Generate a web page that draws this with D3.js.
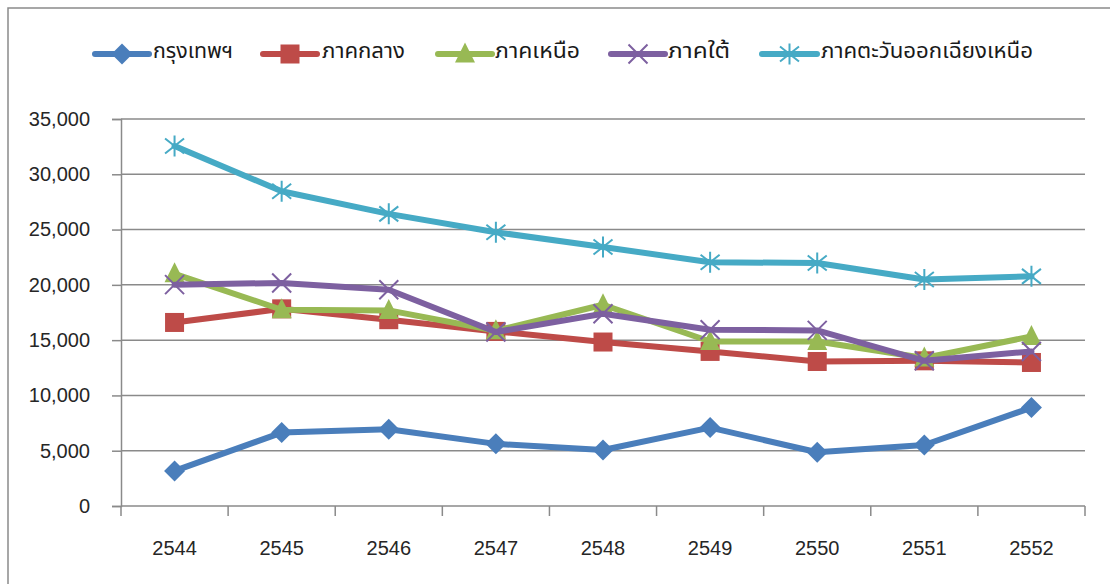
<!DOCTYPE html>
<html>
<head>
<meta charset="utf-8">
<script src="https://cdn.jsdelivr.net/npm/d3@7"></script>
<style>
  html, body { margin: 0; padding: 0; background: #fff; }
  svg { display: block; }
  .tick text { font-family: "Liberation Sans", Arial, sans-serif; font-size: 20px; fill: #262626; }
  .legend text { font-family: "Noto Sans Thai", "Noto Sans", "DejaVu Sans", sans-serif; font-size: 22px; fill: #1a1a1a; }
</style>
</head>
<body>
<svg id="chart" width="1110" height="584"></svg>
<script>
// Years (Buddhist Era)
const years = ["2544", "2545", "2546", "2547", "2548", "2549", "2550", "2551", "2552"];

// Series values per region
const bangkok   = [3170, 6640, 6950, 5620, 5070, 7090, 4860, 5520, 8900];
const central   = [16600, 17830, 16850, 15790, 14830, 13980, 13070, 13130, 12980];
const north     = [21000, 17750, 17690, 15850, 18200, 14880, 14880, 13380, 15340];
const south     = [20020, 20170, 19560, 15730, 17390, 15940, 15880, 13130, 13980];
const northeast = [32550, 28470, 26420, 24760, 23430, 22040, 21980, 20480, 20770];

const seriesNames = ["กรุงเทพฯ", "ภาคกลาง", "ภาคเหนือ", "ภาคใต้", "ภาคตะวันออกเฉียงเหนือ"];
const yTicks = [0, 5000, 10000, 15000, 20000, 25000, 30000, 35000];

const series = [
  { name: seriesNames[0], values: bangkok,   color: "#4A7EBB", marker: "diamond" },
  { name: seriesNames[1], values: central,   color: "#BE4B48", marker: "square" },
  { name: seriesNames[2], values: north,     color: "#98B954", marker: "triangle" },
  { name: seriesNames[3], values: south,     color: "#7D60A0", marker: "x" },
  { name: seriesNames[4], values: northeast, color: "#46AAC5", marker: "star" }
];

const svg = d3.select("#chart");
const gridColor = "#8a8a8a";

// Outer frame (top and left edges visible)
svg.append("path")
  .attr("d", "M8,584 L8,8 L1110,8")
  .attr("fill", "none").attr("stroke", gridColor).attr("stroke-width", 1.5);

const plotLeft = 121, plotRight = 1085, plotTop = 119, plotBottom = 506;

const x = d3.scaleBand().domain(years).range([plotLeft, plotRight]).padding(0);
const y = d3.scaleLinear().domain([0, 35000]).range([plotBottom, plotTop]);
const cx = d => x(d) + x.bandwidth() / 2;

// Horizontal gridlines
svg.append("g").selectAll("line")
  .data(yTicks.filter(t => t > 0))
  .join("line")
  .attr("x1", plotLeft).attr("x2", plotRight)
  .attr("y1", d => y(d)).attr("y2", d => y(d))
  .attr("stroke", gridColor).attr("stroke-width", 1.5);

// Y axis
const yAxis = svg.append("g")
  .attr("transform", `translate(${plotLeft},0)`)
  .call(d3.axisLeft(y).tickValues(yTicks).tickSize(9).tickPadding(22)
    .tickFormat(d3.format(",")));
yAxis.selectAll("line, path").attr("stroke", gridColor).attr("stroke-width", 1.5);

// X axis labels
const xAxis = svg.append("g")
  .attr("transform", `translate(0,${plotBottom})`)
  .call(d3.axisBottom(x).tickSize(0).tickPadding(35));
xAxis.select("path").remove();

// X axis line with ticks between categories
svg.append("line")
  .attr("x1", plotLeft).attr("x2", plotRight).attr("y1", plotBottom).attr("y2", plotBottom)
  .attr("stroke", gridColor).attr("stroke-width", 1.5);
const bounds = years.map(d => x(d)).concat([x(years[years.length - 1]) + x.bandwidth()]);
svg.append("g").selectAll("line")
  .data(bounds)
  .join("line")
  .attr("x1", d => d).attr("x2", d => d)
  .attr("y1", plotBottom).attr("y2", plotBottom + 10)
  .attr("stroke", gridColor).attr("stroke-width", 1.5);

// Marker drawing
function drawMarker(g, type, color) {
  if (type === "diamond") {
    g.append("path").attr("d", "M0,-10.5 L10.5,0 L0,10.5 L-10.5,0 Z").attr("fill", color);
  } else if (type === "square") {
    g.append("rect").attr("x", -9.5).attr("y", -9.5).attr("width", 19).attr("height", 19).attr("fill", color);
  } else if (type === "triangle") {
    g.append("path").attr("d", "M0,-11.5 L10,8.5 L-10,8.5 Z").attr("fill", color);
  } else if (type === "x") {
    g.append("path").attr("d", "M-9.5,-9.5 L9.5,9.5 M-9.5,9.5 L9.5,-9.5")
      .attr("stroke", color).attr("stroke-width", 2).attr("fill", "none");
  } else if (type === "star") {
    g.append("path").attr("d", "M-9.5,-7.5 L9.5,7.5 M-9.5,7.5 L9.5,-7.5 M0,-10.5 L0,10.5")
      .attr("stroke", color).attr("stroke-width", 2).attr("fill", "none");
  }
}

const line = d3.line().x((d, i) => cx(years[i])).y(d => y(d));

series.forEach(s => {
  const g = svg.append("g");
  g.append("path")
    .attr("d", line(s.values))
    .attr("fill", "none")
    .attr("stroke", s.color)
    .attr("stroke-width", 6)
    .attr("stroke-linejoin", "round")
    .attr("stroke-linecap", "round");
  s.values.forEach((v, i) => {
    const m = g.append("g").attr("transform", `translate(${cx(years[i])},${y(v)})`);
    drawMarker(m, s.marker, s.color);
  });
});

// Legend
const legendY = 54;
const legendItems = [
  { x0: 95, x1: 149, tx: 153, tw: 80 },
  { x0: 263, x1: 317, tx: 322, tw: 83 },
  { x0: 438, x1: 492, tx: 495, tw: 85 },
  { x0: 611, x1: 665, tx: 668, tw: 62 },
  { x0: 762, x1: 817, tx: 821, tw: 212 }
];
const legend = svg.append("g").attr("class", "legend");
series.forEach((s, i) => {
  const li = legendItems[i];
  const g = legend.append("g");
  g.append("line")
    .attr("x1", li.x0).attr("x2", li.x1).attr("y1", legendY).attr("y2", legendY)
    .attr("stroke", s.color).attr("stroke-width", 6).attr("stroke-linecap", "round");
  const m = g.append("g").attr("transform", `translate(${(li.x0 + li.x1) / 2},${legendY})`);
  drawMarker(m, s.marker, s.color);
  g.append("text")
    .attr("x", li.tx).attr("y", legendY + 4)
    .attr("textLength", li.tw)
    .attr("lengthAdjust", "spacingAndGlyphs")
    .text(s.name);
});
</script>
</body>
</html>
